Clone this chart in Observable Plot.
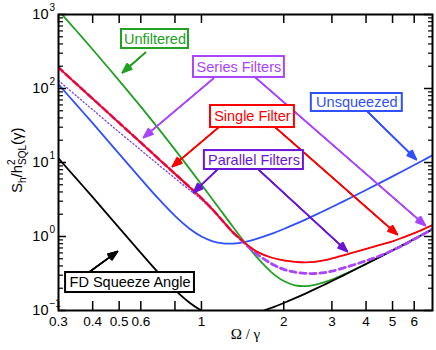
<!DOCTYPE html>
<html><head><meta charset="utf-8">
<script src="https://cdn.jsdelivr.net/npm/d3@7"></script>
<script src="https://cdn.jsdelivr.net/npm/@observablehq/plot@0.6"></script>
<style>body{margin:0;background:#fff}</style>
</head><body><div id="chart"></div>
<script>
// ---- data (Ω/γ and S_h / h²_SQL(γ)) ----
const omega = [0.3,0.35,0.4,0.5,0.6,0.7,0.8,0.9,1,1.1,1.2,1.3,1.4,1.5,1.6,1.8,2,2.2,2.4,2.6,2.8,3,3.5,4,4.5,5,5.5,6,6.5,7];
const unsqueezed = [113.5,59.65,33.97,13.11,6.014,3.168,1.899,1.295,1.0,0.862,0.808,0.803,0.828,0.873,0.933,1.082,1.263,1.467,1.694,1.943,2.212,2.501,3.313,4.25,5.313,6.5,7.813,9.25,10.81,12.5];
const unfiltered = [1133,593.7,336.8,128.0,56.77,27.99,14.92,8.465,5.05,3.146,2.037,1.369,0.9534,0.689,0.5175,0.3307,0.25,0.2191,0.2136,0.2222,0.2394,0.2623,0.3363,0.4273,0.5325,0.6506,0.7817,0.9252,1.081,1.25];
const fdAngle = [11.35,5.965,3.397,1.311,0.6014,0.3168,0.1899,0.1295,0.1,0.0862,0.0808,0.0803,0.0828,0.0873,0.0933,0.1082,0.1263,0.1467,0.1694,0.1943,0.2212,0.2501,0.3313,0.425,0.5313,0.65,0.7813,0.925,1.081,1.25];
const singleFilter = [192,114,72.8,34.3,18.6,11.05,7.04,4.74,3.3,2.3,1.6,1.15,0.9,0.73,0.62,0.52,0.475,0.455,0.448,0.455,0.475,0.505,0.59,0.68,0.77,0.86,0.98,1.11,1.26,1.43];
const seriesFilters = [192,114,72.8,34.3,18.6,11.05,7.04,4.74,3.3,2.3,1.6,1.15,0.89,0.70,0.575,0.43,0.36,0.33,0.318,0.316,0.324,0.34,0.40,0.47,0.55,0.65,0.77,0.92,1.08,1.27];
const parallelFilters = [128,78.7,51.7,25.7,14.7,9.17,6.12,4.31,3.14,2.25,1.6,1.15,0.9,0.73,0.62,0.52,0.475,0.455,0.448,0.455,0.475,0.505,0.59,0.68,0.77,0.86,0.98,1.11,1.26,1.43];

const xTicks = [0.3,0.4,0.5,0.6,0.8,1,2,3,4,5,6];
const yTicks = [0.1,1,10,100,1000];
const yExponents = ["\u22121","0","1","2","3"];
const yMinorTicks = [0.1,1,10,100].flatMap(d => [2,3,4,5,6,7,8,9].map(m => +(d*m).toPrecision(3)));

// ---- annotations ----
const labelText  = ["Unfiltered","Series Filters","Single Filter","Parallel Filters","Unsqueezed","FD Squeeze Angle"];
const labelColor = ["#22a022","#aa44ff","#ff0000","#6a14d8","#3050ff","#000000"];
const labelX  = [0.676,1.371,1.536,1.556,3.70,0.548];
const labelY  = [467,195,41.8,10.8,64.7,0.239];
const boxX1 = [0.510,0.935,1.079,1.025,2.523,0.3184];
const boxX2 = [0.8964,2.011,2.188,2.36,5.428,0.9428];
const boxY1 = [627,270.6,58.9,14.5,85.6,0.326];
const boxY2 = [347,141,29.7,8.04,48.9,0.175];
// arrows: index of the label colour, start and tip
const arrowLabel = [0,1,1,2,2,3,3,4,5];
const arrowX1 = [0.624,1.106,1.575,1.154,1.865,1.144,1.615,4.044,0.386];
const arrowY1 = [306,136.5,141,29.7,29.7,8.04,8.04,48.9,0.326];
const arrowX2 = [0.514,0.614,6.59,0.783,5.205,0.935,3.417,6.107,0.493];
const arrowY2 = [164,21.8,1.408,8.83,1.064,3.93,0.627,10.98,0.627];

// drawing order: parallel (dotted) and series (dashed) below the single-filter line
const curves = [
  {values: unsqueezed, stroke: "#3050ff", dash: null, width: 1.8},
  {values: unfiltered, stroke: "#22a022", dash: null, width: 1.8},
  {values: fdAngle, stroke: "#000000", dash: null, width: 1.8},
  {values: parallelFilters, stroke: "#7a40e8", dash: "1.2,2.4", width: 1.3},
  {values: seriesFilters, stroke: "#aa44ff", dash: "6,4", width: 2.8},
  {values: singleFilter, stroke: "#ff0000", dash: null, width: 1.8}
];

const lineMarks = curves.map(c => Plot.line(omega.map((w, i) => ({x: w, y: c.values[i]})), {
  x: "x", y: "y", stroke: c.stroke, strokeWidth: c.width, strokeDasharray: c.dash,
  curve: "catmull-rom", clip: true
}));

const labels = labelText.map((t, i) => ({t, c: labelColor[i], x: labelX[i], y: labelY[i], x1: boxX1[i], x2: boxX2[i], y1: boxY1[i], y2: boxY2[i]}));
const arrows = arrowLabel.map((l, i) => ({c: labelColor[l], x1: arrowX1[i], y1: arrowY1[i], x2: arrowX2[i], y2: arrowY2[i]}));

const arrowMarks = [12, 24, 36, 44].map(a => Plot.arrow(arrows, {
  x1: "x1", y1: "y1", x2: "x2", y2: "y2", stroke: "c", strokeWidth: 1.5, headLength: 10, headAngle: a
}));

const chart = Plot.plot({
  width: 436, height: 350,
  marginLeft: 58, marginRight: 4, marginTop: 14, marginBottom: 40,
  style: {fontFamily: "'Liberation Sans', Arial, sans-serif", fontSize: "14px", background: "#fff", color: "#000"},
  x: {type: "log", domain: [0.3, 7]},
  y: {type: "log", domain: [0.1, 1000]},
  color: {type: "identity"},
  marks: [
    ...lineMarks,
    ...arrowMarks,
    Plot.rect(labels, {x1: "x1", x2: "x2", y1: "y1", y2: "y2", fill: "#fff", stroke: "c", strokeWidth: 2}),
    Plot.text(labels, {x: "x", y: "y", text: "t", fill: "c", fontSize: 14.5}),
    // ticks pointing inward on all four sides
    Plot.ruleX(xTicks, {x: d => d, y1: 0.1, y2: 0.1, insetTop: -9, stroke: "#000", strokeWidth: 1.5}),
    Plot.ruleX(xTicks, {x: d => d, y1: 1000, y2: 1000, insetBottom: -9, stroke: "#000", strokeWidth: 1.5}),
    Plot.ruleY(yTicks, {y: d => d, x1: 0.3, x2: 0.3, insetRight: -8, stroke: "#000", strokeWidth: 1.5}),
    Plot.ruleY(yTicks, {y: d => d, x1: 7, x2: 7, insetLeft: -8, stroke: "#000", strokeWidth: 1.5}),
    Plot.ruleY(yMinorTicks, {y: d => d, x1: 0.3, x2: 0.3, insetRight: -5, stroke: "#000", strokeWidth: 1.2}),
    Plot.ruleY(yMinorTicks, {y: d => d, x1: 7, x2: 7, insetLeft: -4, stroke: "#000", strokeWidth: 1.2}),
    Plot.frame({stroke: "#000", strokeWidth: 2}),
    Plot.axisX({ticks: xTicks, tickSize: 0, tickPadding: 6, tickFormat: d => String(d), fontSize: 13.5, label: null}),
    Plot.axisY({ticks: yTicks, tickSize: 0, tickPadding: 10, tickFormat: () => "10", fontSize: 14.5, label: null}),
    Plot.text(yTicks, {y: d => d, text: (d, i) => yExponents[i], frameAnchor: "left", dx: -9, dy: -7, textAnchor: "start", fontSize: 10}),
    Plot.text(["\u03a9 / \u03b3"], {frameAnchor: "bottom", dy: 28, text: d => d, fontSize: 15, fontFamily: "'Liberation Serif', 'Times New Roman', serif"})
  ]
});
document.getElementById("chart").append(chart);

// y-axis title with sub/superscripts
const svg = d3.select(chart);
const yl = svg.append("text")
  .attr("transform", "translate(22,193) rotate(-90)")
  .attr("text-anchor", "start")
  .attr("font-size", 15)
  .attr("fill", "#000");
yl.append("tspan").text("S");
yl.append("tspan").attr("font-size", 10).attr("dy", 4).text("h");
yl.append("tspan").attr("dy", -4).text("/h");
yl.append("tspan").attr("font-size", 10).attr("dy", -7).text("2");
yl.append("tspan").attr("font-size", 10).attr("dx", -5.6).attr("dy", 11).text("SQL");
yl.append("tspan").attr("dy", -4).text("(\u03b3)");
</script></body></html>
